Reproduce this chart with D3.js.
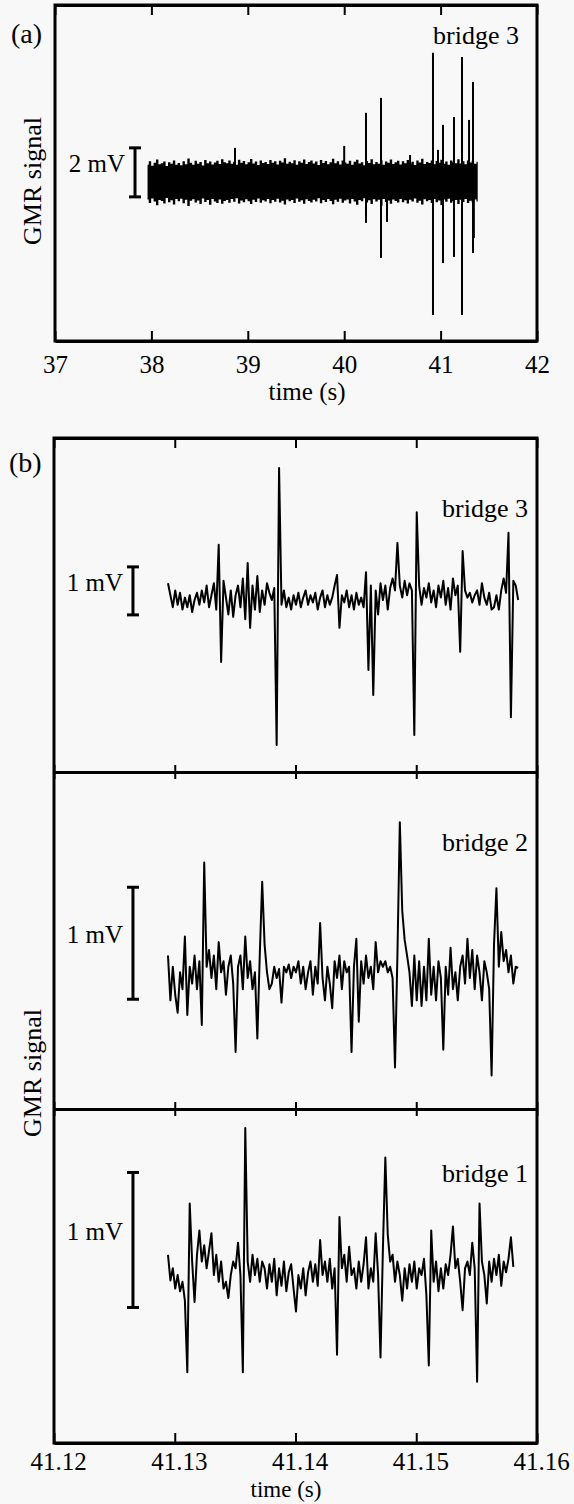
<!DOCTYPE html>
<html>
<head>
<meta charset="utf-8">
<script src="https://cdn.jsdelivr.net/npm/d3@7"></script>
<style>
  body { margin: 0; background: #f8f8f8; }
  text { font-family: "Liberation Serif", "Times New Roman", serif; fill: #000; }
</style>
</head>
<body>
<svg id="gmr-chart"></svg>
<script>
// ---- data ----
// panel (a): noise band envelope (mV), sampled every 25 ms from 37.96 s
const bandStart = 37.96, bandStep = 0.025;
const bandUpper = [
  0.70,0.84,0.66,0.78,0.92,0.72,0.76,0.83,0.65,0.80,
  0.74,0.88,0.70,0.77,0.68,0.84,0.72,0.96,0.78,0.70,
  0.86,0.74,0.81,0.67,0.90,0.76,0.83,0.71,0.79,0.86,
  0.73,0.93,0.80,0.76,0.88,0.74,0.82,0.70,0.91,0.78,
  0.85,0.72,0.80,0.94,0.75,0.83,0.69,0.87,0.77,0.81,
  0.73,0.90,0.78,0.84,0.71,0.86,0.79,0.97,0.74,0.82,
  0.76,0.89,0.70,0.84,0.78,0.92,0.73,0.81,0.87,0.75,
  0.83,0.69,0.90,0.77,0.85,0.72,0.80,0.95,0.76,0.84,
  0.71,0.88,0.79,0.74,0.86,0.70,0.82,0.91,0.75,0.80,
  0.68,0.85,0.77,0.93,0.72,0.81,0.74,0.89,0.70,0.83,
  0.78,0.92,0.73,0.80,0.86,0.71,0.84,0.76,0.90,0.74,
  0.82,0.69,0.87,0.79,0.95,0.73,0.81,0.77,0.88,0.72,
  0.85,0.78,0.91,0.74,0.83,0.70,0.87,0.80,0.76,0.93,
  0.75,0.84,0.72,0.88,0.79,0.86,0.74,0.82
];
const bandLower = [
  -0.72,-0.86,-0.68,-0.80,-0.95,-0.74,-0.78,-0.88,-0.66,-0.83,
  -0.75,-0.92,-0.70,-0.79,-0.69,-0.87,-0.73,-0.98,-0.77,-0.71,
  -0.84,-0.76,-0.90,-0.68,-0.82,-0.74,-0.93,-0.70,-0.80,-0.86,
  -0.72,-0.89,-0.78,-0.74,-0.85,-0.70,-0.81,-0.67,-0.88,-0.76,
  -0.83,-0.71,-0.79,-0.90,-0.73,-0.82,-0.68,-0.85,-0.75,-0.80,
  -0.70,-0.87,-0.74,-0.81,-0.69,-0.84,-0.77,-0.92,-0.72,-0.79,
  -0.74,-0.86,-0.68,-0.81,-0.75,-0.89,-0.71,-0.78,-0.84,-0.73,
  -0.80,-0.67,-0.87,-0.74,-0.82,-0.70,-0.78,-0.91,-0.73,-0.81,
  -0.69,-0.85,-0.76,-0.72,-0.88,-0.70,-0.80,-0.93,-0.74,-0.79,
  -0.67,-0.84,-0.75,-0.90,-0.71,-0.80,-0.73,-0.97,-0.70,-0.82,
  -0.76,-0.89,-0.72,-0.78,-0.84,-0.70,-0.83,-0.75,-0.88,-0.73,
  -0.80,-0.68,-0.85,-0.77,-0.92,-0.71,-0.79,-0.74,-0.86,-0.70,
  -0.83,-0.76,-0.94,-0.72,-0.81,-0.69,-0.85,-0.78,-0.74,-0.90,
  -0.73,-0.82,-0.70,-0.86,-0.77,-0.84,-0.72,-0.80
];
// panel (a): spikes sticking out of the band
const spikeT  = [38.867, 40.00, 40.226, 40.382, 40.444, 40.683, 40.921, 40.973, 41.025, 41.139, 41.222, 41.295, 41.336, 41.345];
const spikeHi = [1.39, 1.47, 2.82, 3.43, 0.6, 1.10, 5.27, 1.31, 2.33, 2.65, 5.10, 2.53, 4.08, 0.6];
const spikeLo = [-0.6, -0.6, -1.67, -3.10, -1.63, -0.6, -5.43, -0.6, -3.31, -3.06, -5.43, -0.6, -2.90, -2.29];

// panel (b): traces (mV), sampled every 0.2 ms from 41.12944 s
const traceStart = 41.12944, traceStep = 0.0002;
const bridge3 = [
  0.35,0.1,-0.15,0.2,-0.1,0.15,-0.2,0.05,-0.15,0.1,
  -0.25,0.0,0.15,-0.1,0.2,-0.05,0.3,-0.15,0.1,0.35,
  -0.2,1.15,-1.29,0.4,0.05,-0.3,0.2,-0.35,0.1,0.3,
  -0.15,0.45,-0.4,0.77,-0.58,0.3,-0.2,0.5,-0.25,0.2,
  -0.1,0.35,0.15,0.0,0.25,-3.02,2.75,-0.1,0.2,-0.15,
  0.05,-0.2,0.1,-0.1,0.15,-0.15,0.05,0.2,-0.1,0.1,
  -0.05,0.15,-0.2,0.05,0.2,-0.15,0.1,-0.1,0.05,0.3,
  0.52,-0.58,0.1,-0.05,0.2,-0.15,0.1,-0.2,0.15,-0.1,
  0.05,-0.15,0.58,-1.46,0.3,-1.98,0.2,-0.3,0.35,0.0,
  0.3,-0.2,0.25,0.45,0.2,1.19,0.3,0.05,0.4,0.1,
  0.35,0.2,-2.81,1.83,0.3,-0.1,0.25,0.05,0.35,-0.05,
  0.2,-0.15,0.3,0.05,0.4,-0.1,0.25,-0.2,0.45,0.1,
  0.3,-1.08,1.02,0.2,0.05,0.15,-0.05,0.1,0.2,-0.1,
  0.35,0.05,-0.1,0.15,-0.2,-0.15,0.1,-0.2,0.2,0.45,
  0.15,1.4,-2.44,0.4,0.3,0.0
];
const bridge2 = [
  0.2,-0.2,0.1,-0.15,-0.31,0.05,-0.1,0.37,-0.33,0.1,
  -0.05,0.2,-0.1,0.15,-0.42,1.03,0.1,0.25,0.0,0.2,
  -0.1,0.32,0.05,0.15,-0.15,0.1,0.2,-0.05,-0.66,0.1,
  0.2,-0.1,0.37,0.0,0.15,-0.1,0.05,-0.54,0.2,0.86,
  0.3,0.05,-0.1,-0.05,0.1,0.0,0.08,-0.22,0.1,0.05,
  0.12,0.0,0.1,0.05,0.15,-0.05,0.1,-0.1,0.05,0.15,
  -0.15,0.1,-0.05,0.49,0.0,-0.2,0.1,-0.05,-0.27,0.15,
  0.0,0.2,-0.1,0.15,0.05,0.1,-0.66,0.1,0.35,-0.39,
  0.15,-0.05,0.2,0.0,0.1,-0.1,0.32,0.05,0.15,0.1,
  0.15,0.05,0.1,0.0,-0.8,0.2,1.39,0.6,0.34,0.2,
  0.05,-0.25,0.2,-0.2,0.15,-0.25,0.1,-0.2,0.35,-0.15,
  0.1,-0.2,0.15,0.0,-0.64,0.1,-0.15,0.27,-0.1,0.05,
  -0.2,0.1,0.2,-0.05,0.35,0.0,0.25,-0.1,0.2,0.05,
  -0.2,0.15,0.05,-0.1,-0.87,0.3,0.8,0.1,0.41,0.15,
  0.25,0.05,0.2,-0.05,0.1,0.09
];
const bridge1 = [
  0.15,-0.04,0.05,-0.1,0.0,-0.12,-0.05,-0.19,-0.72,0.53,
  0.1,-0.2,0.15,0.33,0.1,0.22,0.05,0.18,0.31,0.0,
  0.15,-0.05,0.1,-0.1,-0.05,-0.17,0.0,0.1,0.05,0.24,
  0.0,-0.72,1.09,0.1,-0.05,0.15,0.0,0.12,-0.05,0.1,
  0.05,-0.1,0.08,-0.05,0.12,-0.15,0.05,-0.08,0.1,-0.12,
  0.02,0.08,-0.1,-0.27,0.0,-0.1,0.05,-0.15,0.02,0.1,
  -0.05,0.08,-0.08,0.26,0.0,0.1,-0.05,0.12,-0.1,0.05,
  -0.59,0.43,0.05,0.15,-0.05,0.21,0.0,0.05,-0.1,0.1,
  -0.05,0.08,0.28,-0.1,0.05,-0.05,0.31,0.0,-0.61,0.2,
  0.87,0.3,0.1,0.15,-0.05,0.1,0.0,-0.19,0.05,-0.1,
  0.08,-0.05,0.1,-0.1,0.05,0.0,0.12,-0.15,-0.67,0.33,
  -0.05,0.1,-0.12,0.05,-0.1,0.08,0.0,0.15,0.36,0.05,
  0.12,-0.05,-0.26,0.05,0.1,0.0,0.24,0.05,-0.79,0.53,
  0.1,0.0,-0.21,0.1,-0.05,0.12,0.0,0.15,-0.08,0.1,
  0.02,0.12,0.28,0.06
];

const ticksA = [37, 38, 39, 40, 41, 42];
const ticksB = [41.12, 41.13, 41.14, 41.15, 41.16];

// ---- layout ----
const W = 574, H = 1504;
const serif = "'Liberation Serif', 'Times New Roman', serif";
const svg = d3.select("#gmr-chart").attr("width", W).attr("height", H)
  .attr("font-family", serif);
svg.append("rect").attr("width", W).attr("height", H).attr("fill", "#f8f8f8");

const styleAxis = g => {
  g.attr("font-family", serif);
  g.selectAll(".tick line").attr("stroke", "#000").attr("stroke-width", 2);
  g.select(".domain").attr("stroke", "#000").attr("stroke-width", 3);
  g.selectAll("text").attr("font-size", 25).attr("font-family", serif);
};

// ================= panel (a) =================
const xA = d3.scaleLinear().domain([37, 42]).range([55, 537]);
const yA = d3.scaleLinear().domain([-6.49, 7.22]).range([341, 5]);

const band = bandUpper.map((u, i) => ({ t: bandStart + i * bandStep, u: u, l: bandLower[i] }));
svg.append("path")
  .datum(band)
  .attr("fill", "#000")
  .attr("d", d3.area()
    .curve(d3.curveStep)
    .x(d => xA(d.t))
    .y0(d => yA(d.l))
    .y1(d => yA(d.u)));

svg.append("g").selectAll("line")
  .data(spikeT)
  .join("line")
  .attr("x1", d => xA(d)).attr("x2", d => xA(d))
  .attr("y1", (d, i) => yA(spikeLo[i]))
  .attr("y2", (d, i) => yA(spikeHi[i]))
  .attr("stroke", "#000").attr("stroke-width", 2);

svg.append("g")
  .attr("transform", "translate(0,341)")
  .call(d3.axisBottom(xA).tickValues(ticksA).tickSize(-10).tickSizeOuter(0).tickFormat(d3.format("d")))
  .call(styleAxis)
  .call(g => g.selectAll("text").attr("y", 32).attr("dy", null));

svg.append("g")
  .attr("transform", "translate(0,5)")
  .call(d3.axisTop(xA).tickValues(ticksA).tickSize(-10).tickSizeOuter(0).tickFormat(""))
  .call(styleAxis);

svg.append("rect")
  .attr("x", 55).attr("y", 5).attr("width", 482).attr("height", 336)
  .attr("fill", "none").attr("stroke", "#000").attr("stroke-width", 3);

// scale bar with label
function scaleBar(x, y, t, lo, hi, label) {
  const g = svg.append("g");
  const px = x(t);
  g.append("line").attr("x1", px).attr("x2", px).attr("y1", y(lo)).attr("y2", y(hi))
    .attr("stroke", "#000").attr("stroke-width", 3);
  [lo, hi].forEach(v => g.append("line")
    .attr("x1", px - 6).attr("x2", px + 6).attr("y1", y(v)).attr("y2", y(v))
    .attr("stroke", "#000").attr("stroke-width", 3));
  g.append("text").attr("x", px - 10).attr("y", y((lo + hi) / 2) - 6)
    .attr("text-anchor", "end").attr("dominant-baseline", "middle")
    .attr("font-family", serif).attr("font-size", 25).text(label);
}
scaleBar(xA, yA, 37.83, -0.61, 1.39, "2 mV");

svg.append("text").attr("x", 519).attr("y", 44).attr("text-anchor", "end")
  .attr("font-family", serif).attr("font-size", 26).text("bridge 3");
svg.append("text").attr("x", 11).attr("y", 43)
  .attr("font-family", serif).attr("font-size", 28).text("(a)");
svg.append("text").attr("transform", "translate(41,181) rotate(-90)")
  .attr("text-anchor", "middle").attr("font-family", serif).attr("font-size", 26).text("GMR signal");
svg.append("text").attr("x", 307).attr("y", 400).attr("text-anchor", "middle")
  .attr("font-family", serif).attr("font-size", 25).text("time (s)");

// ================= panel (b) =================
const xB = d3.scaleLinear().domain([41.12, 41.16]).range([54, 537]);
const subPanels = [
  { name: "bridge 3", data: bridge3, top: 438, bottom: 772, domain: [-3.583, 3.375], bar: [-0.31, 0.69], labelY: 517 },
  { name: "bridge 2", data: bridge2, top: 772, bottom: 1109, domain: [-1.17, 1.839], bar: [-0.19, 0.81], labelY: 851 },
  { name: "bridge 1", data: bridge1, top: 1109, bottom: 1443, domain: [-1.244, 1.23], bar: [-0.24, 0.76], labelY: 1182 }
];

subPanels.forEach((p, k) => {
  const y = d3.scaleLinear().domain(p.domain).range([p.bottom, p.top]);
  const line = d3.line()
    .x((d, i) => xB(traceStart + i * traceStep))
    .y(d => y(d));
  svg.append("path").datum(p.data)
    .attr("d", line).attr("fill", "none")
    .attr("stroke", "#000").attr("stroke-width", 2).attr("stroke-linejoin", "round");

  scaleBar(xB, y, 41.12654, p.bar[0], p.bar[1], "1 mV");

  svg.append("text").attr("x", 528).attr("y", p.labelY).attr("text-anchor", "end")
    .attr("font-family", serif).attr("font-size", 26).text(p.name);

  // ticks pointing into this sub-panel from its top and bottom edge
  svg.append("g").attr("transform", `translate(0,${p.top})`)
    .call(d3.axisTop(xB).tickValues(ticksB).tickSize(k === 0 ? -10 : -7).tickSizeOuter(0).tickFormat(""))
    .call(styleAxis);
  const bottomAxis = svg.append("g").attr("transform", `translate(0,${p.bottom})`)
    .call(d3.axisBottom(xB).tickValues(ticksB).tickSize(k === 2 ? -10 : -7).tickSizeOuter(0)
      .tickFormat(k === 2 ? d3.format(".2f") : ""))
    .call(styleAxis);
  if (k === 2) bottomAxis.selectAll("text").attr("y", 27).attr("dy", null).attr("dx", 4);
});

svg.append("rect")
  .attr("x", 54).attr("y", 438).attr("width", 483).attr("height", 1005)
  .attr("fill", "none").attr("stroke", "#000").attr("stroke-width", 3);

svg.append("text").attr("x", 9).attr("y", 472)
  .attr("font-family", serif).attr("font-size", 28).text("(b)");
svg.append("text").attr("transform", "translate(41,1073) rotate(-90)")
  .attr("text-anchor", "middle").attr("font-family", serif).attr("font-size", 26).text("GMR signal");
svg.append("text").attr("x", 286).attr("y", 1497).attr("text-anchor", "middle")
  .attr("font-family", serif).attr("font-size", 23).text("time (s)");
</script>
</body>
</html>
